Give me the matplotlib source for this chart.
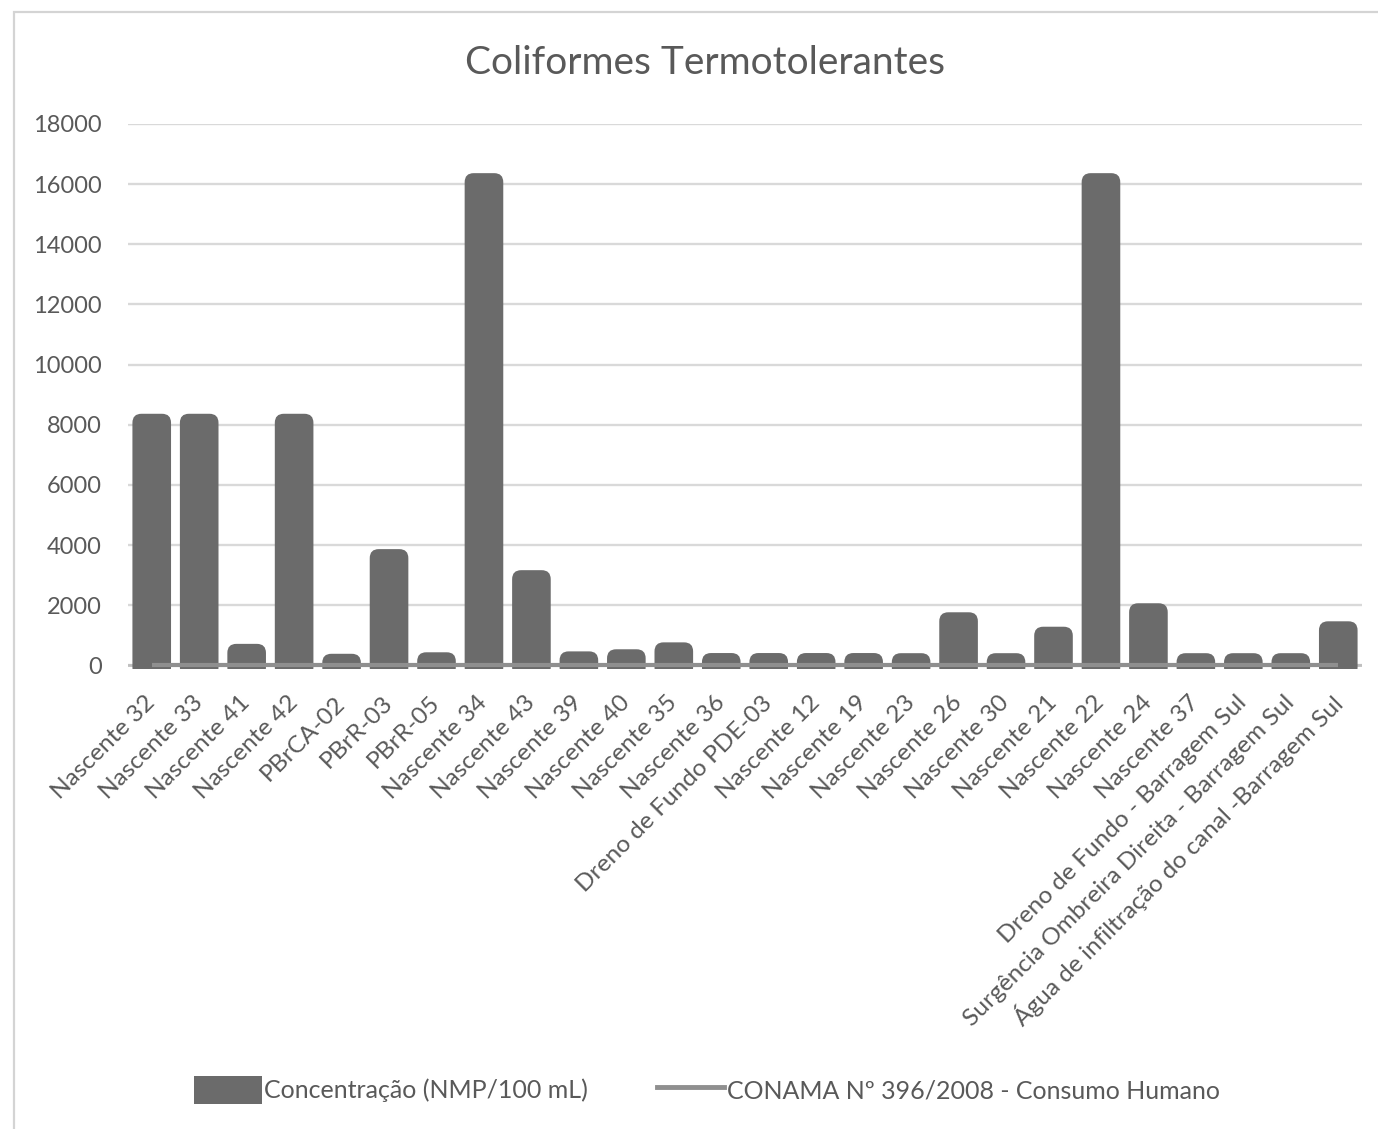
import matplotlib
matplotlib.use("Agg")
import matplotlib.pyplot as plt
from matplotlib.patches import Patch, Rectangle, FancyBboxPatch, BoxStyle
from matplotlib.lines import Line2D

plt.rcParams['font.family'] = ['Lato', 'DejaVu Sans']

# Sampling points
categories = [
    "Nascente 32", "Nascente 33", "Nascente 41", "Nascente 42", "PBrCA-02",
    "PBrR-03", "PBrR-05", "Nascente 34", "Nascente 43", "Nascente 39",
    "Nascente 40", "Nascente 35", "Nascente 36", "Dreno de Fundo PDE-03",
    "Nascente 12", "Nascente 19", "Nascente 23", "Nascente 26", "Nascente 30",
    "Nascente 21", "Nascente 22", "Nascente 24", "Nascente 37",
    "Dreno de Fundo - Barragem Sul", "Surgência Ombreira Direita - Barragem Sul",
    "Água de infiltração do canal -Barragem Sul",
]

# Thermotolerant coliforms (NMP/100 mL)
concentracao = [
    8000, 8000, 350, 8000, 20,
    3500, 70, 16000, 2800, 100,
    170, 400, 45, 45,
    45, 45, 40, 1400, 40,
    920, 16000, 1700, 40,
    40, 40,
    1100,
]

# CONAMA 396/2008 limit for human consumption (absence)
conama = [0, 0, 0, 0, 0, 0, 0, 0, 0, 0, 0, 0, 0,
          0, 0, 0, 0, 0, 0, 0, 0, 0, 0, 0, 0, 0]

yticks = [0, 2000, 4000, 6000, 8000, 10000, 12000, 14000, 16000, 18000]

text_color = "#595959"
bar_color = "#6b6b6b"
line_color = "#8f8f8f"
grid_color = "#d9d9d9"

W, H = 1378, 1129
fig = plt.figure(figsize=(W / 100, H / 100), dpi=100)
fig.patch.set_facecolor("white")

# chart frame
fig.patches.append(Rectangle((14 / W, -0.05), 1.1, 1 - 12 / H + 0.05,
                             transform=fig.transFigure, fill=False,
                             edgecolor="#d4d4d4", linewidth=1.6))

ax = fig.add_axes([128 / W, 1 - 669 / H, (1362 - 128) / W, (669 - 124) / H])
x = list(range(len(categories)))

ax.set_xlim(-0.5, len(categories) - 0.5)
ax.set_ylim(-120, 18000)

bars = ax.bar(x, concentracao, width=0.35, color=bar_color, linewidth=0, zorder=3)

# Excel-style soft bars: pad each bar outward and round its corners
(x0p, y0p), (x1p, y1p) = ax.transData.transform([(0, 0), (1, 1000)])
px_per_x = x1p - x0p
px_per_y = (y1p - y0p) / 1000.0
aspect = px_per_x / px_per_y
pad_px, round_px = 11.0, 9.0
for rect in bars:
    rect.set_visible(False)
    fb = FancyBboxPatch((rect.get_x(), rect.get_y()), rect.get_width(), rect.get_height(),
                        boxstyle=BoxStyle.Round(pad=pad_px / px_per_x,
                                                rounding_size=round_px / px_per_x),
                        mutation_aspect=aspect, facecolor=bar_color,
                        edgecolor="none", zorder=3)
    ax.add_patch(fb)

ax.plot(x, conama, color=line_color, linewidth=3.0, solid_capstyle="butt", zorder=4)

ax.set_yticks(yticks)
ax.set_yticklabels([str(v) for v in yticks])
ax.set_xticks(x)
ax.set_xticklabels(categories, rotation=45, ha="right", va="center",
                   rotation_mode="anchor")

ax.tick_params(axis="y", length=0, pad=19, labelsize=17, labelcolor=text_color)
ax.tick_params(axis="x", length=0, pad=22, labelsize=17.6, labelcolor=text_color)

ax.yaxis.grid(True, color=grid_color, linewidth=1.7, zorder=0)
ax.set_axisbelow(True)
for s in ax.spines.values():
    s.set_visible(False)
ax.axhline(0, color="#bfbfbf", linewidth=2, zorder=2)

fig.text(705 / W, 1 - 63 / H, "Coliformes Termotolerantes", ha="center",
         va="center", fontsize=28, color=text_color)

handles = [
    Patch(facecolor=bar_color, edgecolor=bar_color, linewidth=0),
    Line2D([0], [0], color=line_color, linewidth=3.5),
]
labels = ["Concentração (NMP/100 mL)", "CONAMA Nº 396/2008 - Consumo Humano"]
leg = fig.legend(handles, labels, loc="center", bbox_to_anchor=(707 / W, 1 - 1090 / H),
                 ncol=2, frameon=False, fontsize=18, handlelength=2.7,
                 handleheight=1.35, handletextpad=0.1, columnspacing=2.75)
for t in leg.get_texts():
    t.set_color(text_color)

fig.savefig("out.png", dpi=100, facecolor="white")
